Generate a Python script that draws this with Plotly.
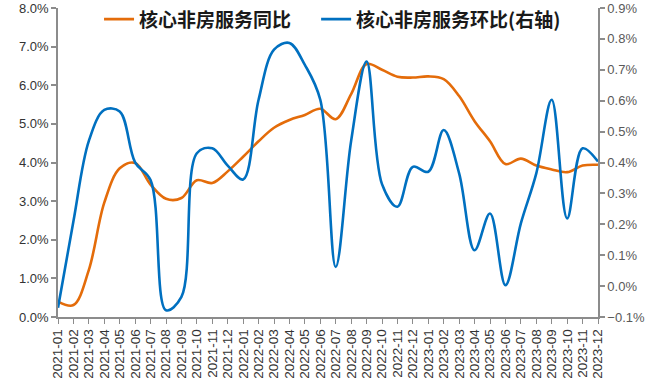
import plotly.graph_objects as go

months = [f"{y}-{m:02d}" for y in (2021, 2022, 2023) for m in range(1, 13)]

yoy = [0.40, 0.31, 1.22, 2.96, 3.85, 3.99, 3.43, 3.06, 3.08, 3.54, 3.47, 3.77,
       4.15, 4.55, 4.90, 5.10, 5.23, 5.39, 5.12, 5.77, 6.55, 6.40, 6.22, 6.20,
       6.23, 6.16, 5.72, 5.07, 4.55, 3.96, 4.10, 3.92, 3.82, 3.75, 3.92, 3.94]

mom = [-0.07, 0.21, 0.47, 0.57, 0.565, 0.40, 0.343, -0.078, -0.035, 0.43, 0.446, 0.39,
       0.345, 0.603, 0.765, 0.787, 0.716, 0.603, 0.062, 0.47, 0.727, 0.33, 0.257, 0.386,
       0.370, 0.505, 0.365, 0.116, 0.235, 0.003, 0.203, 0.365, 0.603, 0.219, 0.446, 0.403]

name_yoy = "核心非房服务同比"
name_mom = "核心非房服务环比(右轴)"

ORANGE = "#E46C0A"
BLUE = "#0070C0"
AXIS = "#8C8C8C"

fig = go.Figure()
fig.add_trace(go.Scatter(x=months, y=yoy, name=name_yoy, mode="lines", legend="legend",
                         line=dict(color=ORANGE, width=2.6, shape="spline", smoothing=1.0)))
fig.add_trace(go.Scatter(x=months, y=mom, name=name_mom, mode="lines", yaxis="y2",
                         legend="legend2",
                         line=dict(color=BLUE, width=2.6, shape="spline", smoothing=1.0)))

FONT = "Liberation Sans, Arial, sans-serif"
LEGFONT = dict(family="Noto Sans CJK SC", size=19, color="#1a1a1a", weight="bold")

fig.update_layout(
    width=663, height=382,
    margin=dict(l=58, r=65, t=8, b=65, autoexpand=False),
    paper_bgcolor="white", plot_bgcolor="white",
    showlegend=True,
    legend=dict(orientation="h", x=0.076, y=1.025, xanchor="left", yanchor="top",
                bgcolor="rgba(0,0,0,0)", font=LEGFONT, itemwidth=30),
    legend2=dict(orientation="h", x=0.478, y=1.025, xanchor="left", yanchor="top",
                 bgcolor="rgba(0,0,0,0)", font=LEGFONT, itemwidth=30),
    xaxis=dict(type="category", range=[0, 35], tickangle=-90, showgrid=False,
               tickmode="linear", dtick=1, automargin=False,
               showline=True, linecolor=AXIS, linewidth=1.5,
               ticks="outside", ticklen=5, tickcolor=AXIS, tickwidth=1,
               tickfont=dict(family=FONT, size=13.5, color="#333333")),
    yaxis=dict(range=[0, 8], dtick=1, tickformat=".1f", ticksuffix="%", showgrid=False,
               zeroline=False, showline=True, linecolor=AXIS, linewidth=1.5, automargin=False,
               ticks="outside", ticklen=5, tickcolor=AXIS, tickwidth=1.5,
               tickfont=dict(family=FONT, size=13, color="#333333")),
    yaxis2=dict(range=[-0.1, 0.9], dtick=0.1, tickformat=".1f", ticksuffix="%",
                overlaying="y", side="right", anchor="x", showgrid=False, zeroline=False,
                showline=True, linecolor=AXIS, linewidth=1.5, automargin=False,
                ticks="outside", ticklen=5, tickcolor=AXIS, tickwidth=1.5,
                tickfont=dict(family=FONT, size=13, color="#595959")),
)

fig.write_html("out.html", config={"displayModeBar": False},
               post_script="document.body.style.margin='0';")
